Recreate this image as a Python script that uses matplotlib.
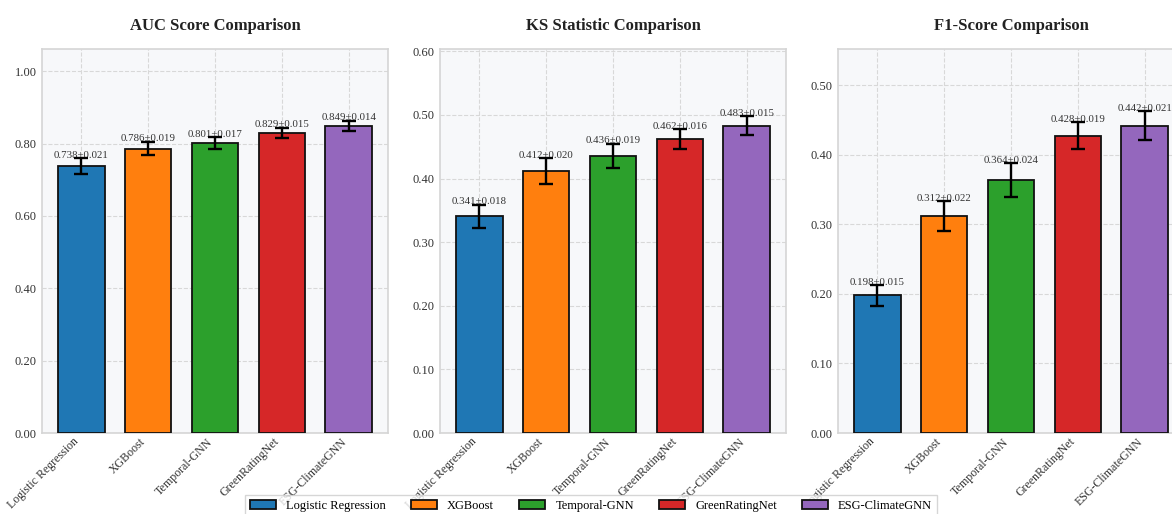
import matplotlib
matplotlib.use("Agg")
import matplotlib.pyplot as plt
import numpy as np

models = ["Logistic Regression", "XGBoost", "Temporal-GNN", "GreenRatingNet", "ESG-ClimateGNN"]
colors = ["#1f77b4", "#ff7f0e", "#2ca02c", "#d62728", "#9467bd"]

auc_mean = [0.738, 0.786, 0.801, 0.829, 0.849]
auc_std = [0.021, 0.019, 0.017, 0.015, 0.014]
ks_mean = [0.341, 0.412, 0.436, 0.462, 0.483]
ks_std = [0.018, 0.020, 0.019, 0.016, 0.015]
f1_mean = [0.198, 0.312, 0.364, 0.428, 0.442]
f1_std = [0.015, 0.022, 0.024, 0.019, 0.021]

titles = ["AUC Score Comparison", "KS Statistic Comparison", "F1-Score Comparison"]
metrics = [(auc_mean, auc_std), (ks_mean, ks_std), (f1_mean, f1_std)]

plt.rcParams['font.family'] = ['Liberation Serif', 'DejaVu Serif']

fig = plt.figure(figsize=(11.72, 5.14), dpi=100)
lefts = [42 / 1172, 440 / 1172, 838 / 1172]
w = 346 / 1172
bottom = (514 - 433) / 514
h = (433 - 49) / 514

handles = None
for i, (title, (m, s)) in enumerate(zip(titles, metrics)):
    ax = fig.add_axes([lefts[i], bottom, w, h])
    ax.set_facecolor("#f7f8fa")
    x = np.arange(len(models))
    bars = ax.bar(x, m, width=0.7, color=colors, edgecolor="#111111", linewidth=1.3,
                  yerr=s, capsize=5, error_kw=dict(ecolor="black", elinewidth=1.7, capthick=1.7),
                  label=models, zorder=3)
    handles = bars
    for xi, mi, si in zip(x, m, s):
        ax.annotate(f"{mi:.3f}\u00b1{si:.3f}", (xi, mi + si), xytext=(0, 2),
                    textcoords="offset points", ha="center", va="center",
                    fontsize=7.8, color="#333333", zorder=2.5)
    ax.set_ylim(0, max(m) * 1.25)
    ax.set_xticks(x)
    ax.set_xticklabels(models, rotation=45, ha="right", fontsize=8.6, color="#333333")
    ax.yaxis.set_major_formatter(matplotlib.ticker.FormatStrFormatter("%.2f"))
    ax.tick_params(axis="y", labelsize=9, colors="#333333", length=0, pad=4)
    ax.tick_params(axis="x", length=0, pad=2)
    ax.grid(True, linestyle="--", color="#d8d8d8", linewidth=0.8, zorder=0)
    ax.set_axisbelow(True)
    for sp in ax.spines.values():
        sp.set_color("#d5d5d5")
        sp.set_linewidth(1.2)
    ax.set_title(title, fontsize=12, fontweight="bold", color="#222222", pad=14)

fig.legend(handles.patches, models, loc="upper center", bbox_to_anchor=(591 / 1172, 19 / 514),
           ncol=5, fontsize=9, frameon=True, edgecolor="#cccccc", fancybox=False,
           handlelength=2.1, columnspacing=2.0, borderaxespad=0, borderpad=0.4)

fig.savefig("out.png", dpi=100)
